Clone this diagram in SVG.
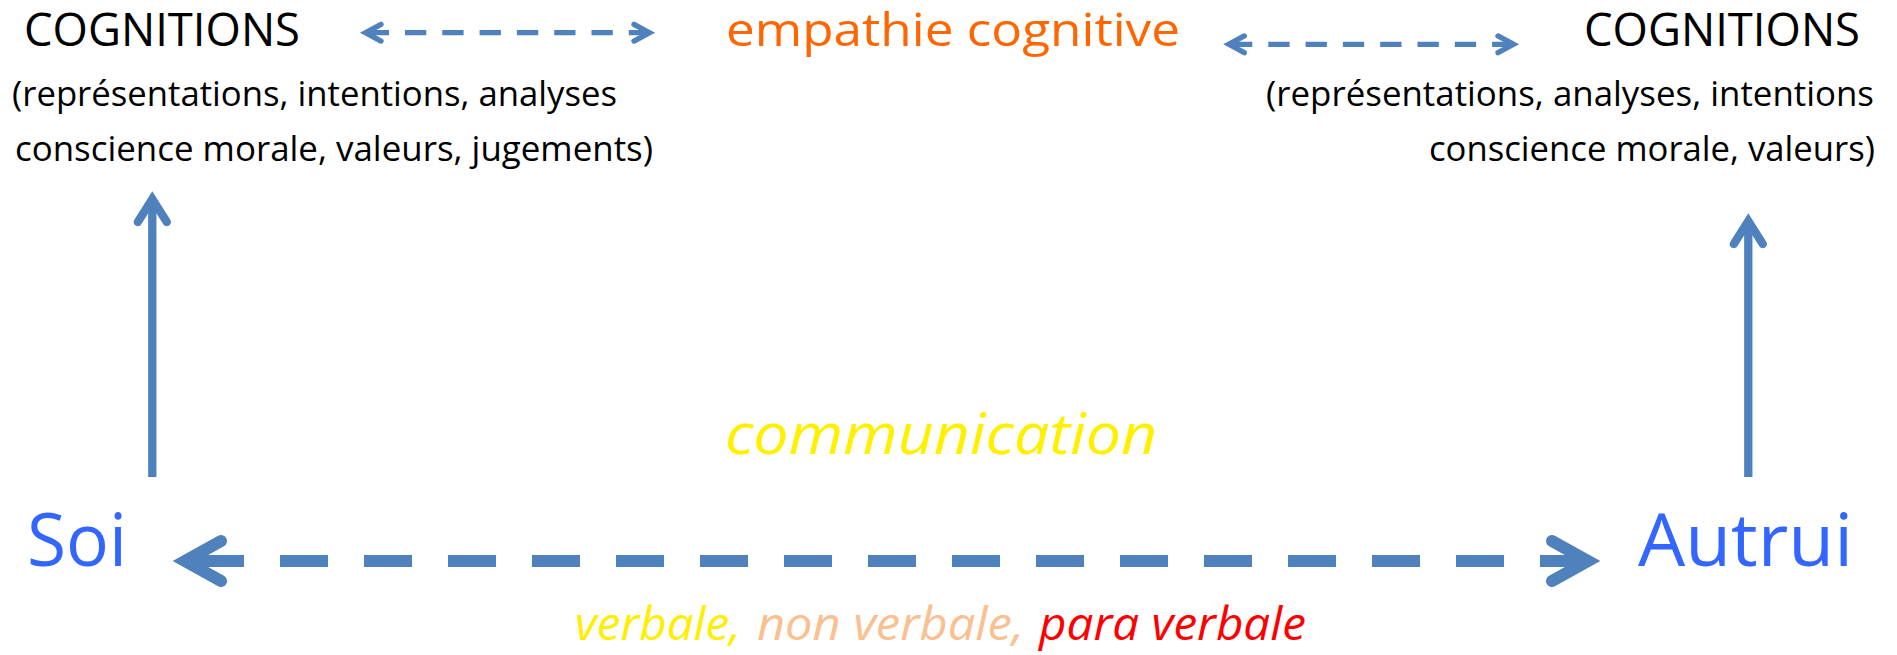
<svg xmlns="http://www.w3.org/2000/svg" width="1897" height="655" viewBox="0 0 1897 655">
<style>
.ln{fill:none;stroke:#4F81BD;stroke-linecap:butt}
.hd{fill:none;stroke:#4F81BD;stroke-linejoin:miter;stroke-linecap:round}
.big{stroke-width:12}
.mid{stroke-width:8.3}
.sm{stroke-width:5.3}
.t{font-family:"Open Sans","Noto Sans",sans-serif}
.ti{font-family:"Open Sans","Noto Sans",sans-serif;font-style:italic}
</style>
<rect width="1897" height="655" fill="#FFFFFF"/>
<g id="connectors">
  <line class="ln big" x1="196" y1="561" x2="1588" y2="561" stroke-dasharray="48 36"/>
  <polyline class="hd big" points="221,541 185,561 221,581"/>
  <polyline class="hd big" points="1552,541 1588,561 1552,581"/>
  <line class="ln mid" x1="152.3" y1="477" x2="152.3" y2="199"/>
  <polyline class="hd mid" points="137.8,222 152.3,199 166.8,222"/>
  <line class="ln mid" x1="1748.3" y1="477" x2="1748.3" y2="221"/>
  <polyline class="hd mid" points="1733.8,244 1748.3,221 1762.8,244"/>
  <line class="ln sm" x1="367.7" y1="32.7" x2="649.5" y2="32.7" stroke-dasharray="21.3 16"/>
  <polyline class="hd sm" points="381,24.3 365.5,32.7 381,41.1"/>
  <polyline class="hd sm" points="634,24.3 649.5,32.7 634,41.1"/>
  <line class="ln sm" x1="1231" y1="44.3" x2="1513.5" y2="44.3" stroke-dasharray="21.3 16"/>
  <polyline class="hd sm" points="1244.3,35.9 1228.8,44.3 1244.3,52.7"/>
  <polyline class="hd sm" points="1498,35.9 1513.5,44.3 1498,52.7"/>
</g>
<g id="cognitions-soi">
  <text class="t" x="24" y="46" font-size="46" fill="#000000" textLength="276" lengthAdjust="spacingAndGlyphs">COGNITIONS</text>
  <text class="t" x="12" y="106" font-size="35" fill="#000000" textLength="605" lengthAdjust="spacingAndGlyphs">(représentations, intentions, analyses</text>
  <text class="t" x="15" y="161" font-size="35" fill="#000000" textLength="638" lengthAdjust="spacingAndGlyphs">conscience morale, valeurs, jugements)</text>
</g>
<g id="empathie">
  <text class="t" x="726" y="46" font-size="46" fill="#FF6600" textLength="454" lengthAdjust="spacingAndGlyphs">empathie cognitive</text>
</g>
<g id="cognitions-autrui">
  <text class="t" x="1584" y="46" font-size="46" fill="#000000" textLength="276" lengthAdjust="spacingAndGlyphs">COGNITIONS</text>
  <text class="t" x="1266" y="106" font-size="35" fill="#000000" textLength="608" lengthAdjust="spacingAndGlyphs">(représentations, analyses, intentions</text>
  <text class="t" x="1429" y="161" font-size="35" fill="#000000" textLength="446" lengthAdjust="spacingAndGlyphs">conscience morale, valeurs)</text>
</g>
<g id="communication">
  <text class="ti" x="725" y="454" font-size="56" fill="#FFF000" textLength="432" lengthAdjust="spacingAndGlyphs">communication</text>
</g>
<g id="soi">
  <text class="t" x="27" y="566" font-size="74" fill="#3366FF" textLength="100" lengthAdjust="spacingAndGlyphs">Soi</text>
</g>
<g id="autrui">
  <text class="t" x="1638" y="566" font-size="74" fill="#3366FF" textLength="215" lengthAdjust="spacingAndGlyphs">Autrui</text>
</g>
<g id="modes">
  <text class="ti" x="575" y="640" font-size="46" fill="#FFEE00" textLength="166" lengthAdjust="spacingAndGlyphs">verbale,</text>
  <text class="ti" x="757" y="640" font-size="46" fill="#FAC090" textLength="267" lengthAdjust="spacingAndGlyphs">non verbale,</text>
  <text class="ti" x="1039" y="640" font-size="46" fill="#FF0000" textLength="267" lengthAdjust="spacingAndGlyphs">para verbale</text>
</g>
</svg>
